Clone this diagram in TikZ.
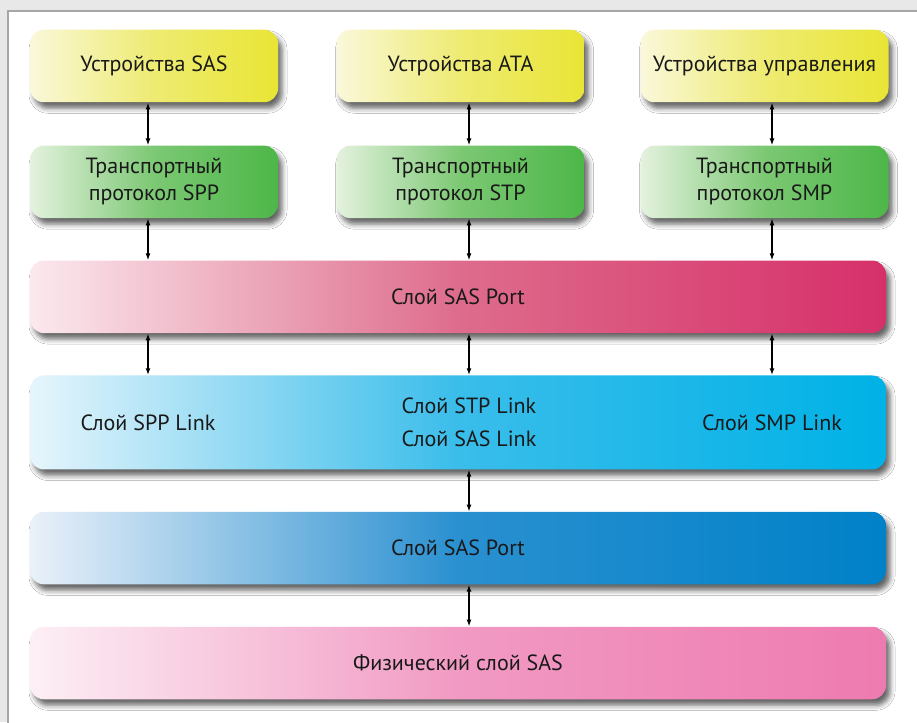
\documentclass[tikz,border=0pt]{standalone}
\usepackage{fontspec}
\setmainfont{PT Sans}
\usetikzlibrary{positioning,arrows.meta,shadows.blur}

\definecolor{devL}{HTML}{FAF8DA}
\definecolor{devM}{HTML}{EEEB72}
\definecolor{devR}{HTML}{E9E535}
\definecolor{trL}{HTML}{E4F2DE}
\definecolor{trM}{HTML}{7CC874}
\definecolor{trR}{HTML}{4DB748}
\definecolor{portL}{HTML}{FBE9EE}
\definecolor{portM}{HTML}{DE6C8C}
\definecolor{portR}{HTML}{D6306A}
\definecolor{linkL}{HTML}{E6F5FC}
\definecolor{linkM}{HTML}{3ABDEA}
\definecolor{linkR}{HTML}{00B2E6}
\definecolor{lowL}{HTML}{EAF1F9}
\definecolor{lowM}{HTML}{2A90D0}
\definecolor{lowR}{HTML}{0081C8}
\definecolor{phyL}{HTML}{FDEFF5}
\definecolor{phyM}{HTML}{F19AC3}
\definecolor{phyR}{HTML}{EE7BB0}

\tikzset{
    layer/.style = {
        rounded corners=14pt,
        minimum height=72.5pt,
        inner sep=0pt,
        align=center,
        text=black!90,
        font=\fontsize{22}{27}\selectfont,
        blur shadow={shadow xshift=4pt, shadow yshift=-6pt, shadow blur radius=5pt, shadow opacity=60},
        },
    dev block/.style = {
        layer,
        minimum width=248pt,
        left color=devL, right color=devR, middle color=devM,
        },
    trans block/.style = {
        layer,
        minimum width=248pt,
        left color=trL, right color=trR, middle color=trM,
        },
    wide block/.style = {
        layer,
        minimum width=856pt,
        },
    layer text/.style = {
        inner sep=0pt,
        align=center,
        text=black!90,
        font=\fontsize{22}{27}\selectfont,
        },
    link/.style = {
        <->,
        line width=1.7pt,
        >={Latex[length=7pt,width=5pt]},
        },
}

\begin{document}
\begin{tikzpicture}[
            x=1pt, y=-1pt,
            node distance=42pt
            ]
            % background and frame
            \useasboundingbox (0,0) rectangle (917,722);
            \fill[gray!18] (0,0) rectangle (917,722);
            \filldraw[fill=white, draw=gray!70, line width=2pt] (8,11) rectangle (930,740);

            % arrow columns
            \coordinate (c1) at (148,0);
            \coordinate (c2) at (469,0);
            \coordinate (c3) at (772,0);

            % Devices
            \node [dev block] (devsas) at (154,66) {Устройства SAS};
            \node [dev block] (devata) at (460.5,66) {Устройства ATA};
            \node [dev block] (devman) at (764.5,66) {Устройства управления};

            % Transport
            \node [trans block, below=43pt of devsas] (trspp) {Транспортный\\протокол SPP};
            \node [trans block, below=43pt of devata] (trstp) {Транспортный\\протокол STP};
            \node [trans block, below=43pt of devman] (trsmp) {Транспортный\\протокол SMP};

            % Layers
            \node [wide block, below=42pt of trstp, xshift=-2.5pt,
                   left color=portL, right color=portR, middle color=portM] (porttop) {Слой SAS Port};
            \node [wide block, below=of porttop, minimum height=94pt,
                   left color=linkL, right color=linkR, middle color=linkM] (linklay) {};
            \node [wide block, below=of linklay,
                   left color=lowL, right color=lowR, middle color=lowM] (portlow) {Слой SAS Port};
            \node [wide block, below=of portlow,
                   left color=phyL, right color=phyR, middle color=phyM] (phy) {Физический слой SAS};

            \node [layer text] (lspp) at (linklay.center -| c1) {Слой SPP Link};
            \node [layer text] (lstp) at (linklay.center -| c2) {Слой STP Link\\[6pt]Слой SAS Link};
            \node [layer text] (lsmp) at (linklay.center -| c3) {Слой SMP Link};

            \draw[link] (devsas.south -| c1) to (trspp.north -| c1);
            \draw[link] (devata.south -| c2) to (trstp.north -| c2);
            \draw[link] (devman.south -| c3) to (trsmp.north -| c3);

            \draw[link] (trspp.south -| c1) to (porttop.north -| c1);
            \draw[link] (trstp.south -| c2) to (porttop.north -| c2);
            \draw[link] (trsmp.south -| c3) to (porttop.north -| c3);

            \draw[link] (porttop.south -| c1) to (linklay.north -| c1);
            \draw[link] (porttop.south -| c2) to (linklay.north -| c2);
            \draw[link] (porttop.south -| c3) to (linklay.north -| c3);

            \draw[link] (linklay.south -| c2) to (portlow.north -| c2);
            \draw[link] (portlow.south -| c2) to (phy.north -| c2);
\end{tikzpicture}
\end{document}
